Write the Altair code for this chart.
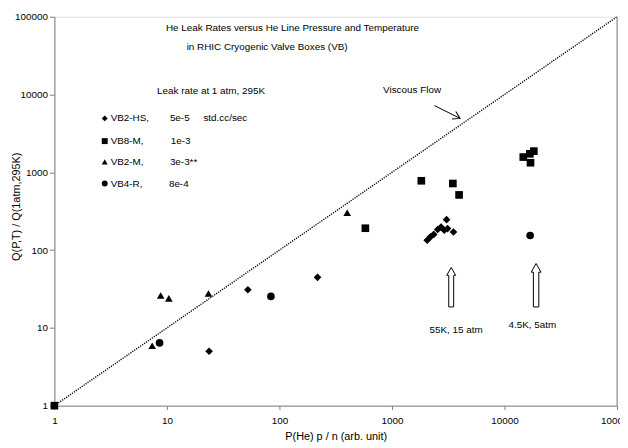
import altair as alt
import pandas as pd

# ---- data ----
diamond_x = [52.4, 218, 23.7, 2056, 2198, 2350, 2547, 2729, 3056, 2917, 3118, 3518]
diamond_y = [30.9, 44.6, 5.0, 134, 148, 159, 184, 198, 246, 180, 189, 171]

square_x = [1, 580, 1823, 3475, 3948, 14680, 16800, 18220, 17020]
square_y = [1, 191, 778, 718, 512, 1570, 1729, 1871, 1328]

triangle_x = [8.8, 10.4, 23.4, 7.4, 400]
triangle_y = [26.1, 23.9, 27.7, 5.9, 302]

circle_x = [8.6, 84, 16900]
circle_y = [6.4, 25.4, 154]

series_names = ["VB2-HS", "VB8-M", "VB2-M", "VB4-R"]
series_shapes = ["diamond", "square", "triangle-up", "circle"]
leak_rates = ["5e-5", "1e-3", "3e-3**", "8e-4"]

x_ticks = [1, 10, 100, 1000, 10000, 100000]
y_ticks = [1, 10, 100, 1000, 10000, 100000]
flow_line = [1, 100000]

FONT = "Liberation Sans"
AX = "#808080"
OX, OY = 55, 14  # plot origin on the page

rows = []
for name, xs, ys in zip(series_names,
                        [diamond_x, square_x, triangle_x, circle_x],
                        [diamond_y, square_y, triangle_y, circle_y]):
    for a, b in zip(xs, ys):
        rows.append({"x": a, "y": b, "series": name})
df = pd.DataFrame(rows)

xscale = alt.Scale(type="log", domain=[1, 100000], nice=False)
yscale = alt.Scale(type="log", domain=[1, 100000], nice=False)

xaxis = alt.Axis(values=x_ticks, format="d", title="P(He) p / n (arb. unit)",
                 grid=False, domainColor=AX, tickColor=AX, tickSize=4,
                 labelFont=FONT, labelFontSize=10, labelColor="black",
                 titleFont=FONT, titleFontSize=11, titleFontWeight="normal",
                 titleColor="black", labelPadding=6, titlePadding=5,
                 labelFlush=False, labelOverlap=False)
yaxis = alt.Axis(values=y_ticks, format="d", title="Q(P,T) / Q(1atm,295K)",
                 grid=False, domainColor=AX, tickColor=AX, tickSize=5,
                 labelFont=FONT, labelFontSize=10, labelColor="black",
                 titleFont=FONT, titleFontSize=11, titleFontWeight="normal",
                 titleColor="black", labelPadding=2, titleX=-38, titleY=192,
                 titleAngle=-90, titleAlign="center", titleBaseline="middle",
                 labelFlush=False, labelOverlap=False)

points = alt.Chart(df).mark_point(filled=True, opacity=1, color="black", size=60).encode(
    x=alt.X("x:Q", scale=xscale, axis=xaxis),
    y=alt.Y("y:Q", scale=yscale, axis=yaxis),
    shape=alt.Shape("series:N", scale=alt.Scale(domain=series_names, range=series_shapes), legend=None),
)

line_df = pd.DataFrame({"x": flow_line, "y": flow_line})
diag = alt.Chart(line_df).mark_line(color="black", strokeWidth=1.4, strokeDash=[1.2, 1.2]).encode(
    x=alt.X("x:Q", scale=xscale), y=alt.Y("y:Q", scale=yscale))

border = alt.Chart(pd.DataFrame({"x": [100000]})).mark_rule(color=AX).encode(
    x=alt.X("x:Q", scale=xscale))

one = pd.DataFrame({"a": [0]})


def label(text, px, py, align="left", size=10):
    return alt.Chart(one).mark_text(text=text, font=FONT, fontSize=size, color="black",
                                    align=align, baseline="middle").encode(
        x=alt.value(px - OX), y=alt.value(py - OY))


def sym(shape, px, py, size=30):
    return alt.Chart(one).mark_point(shape=shape, filled=True, opacity=1, color="black",
                                     size=size).encode(
        x=alt.value(px - OX), y=alt.value(py - OY))


ARROW = "M0,-1 L0.225,-0.6 L0.125,-0.6 L0.125,1 L-0.125,1 L-0.125,-0.6 L-0.225,-0.6 Z"


def up_arrow(px, py, h):
    return alt.Chart(one).mark_point(shape=ARROW, filled=True, fill="white", stroke="black",
                                     strokeWidth=1, opacity=1, size=h * h).encode(
        x=alt.value(px - OX), y=alt.value(py - OY))


layers = [diag, border, points]
layers += [label("He Leak Rates versus He Line Pressure and Temperature", 168, 25),
           label("in RHIC Cryogenic Valve Boxes (VB)", 189, 45),
           label("Leak rate at 1 atm, 295K", 159, 89),
           label("std.cc/sec", 206, 117),
           label("Viscous Flow", 388, 88),
           label("55K, 15 atm", 435, 331),
           label("4.5K, 5atm", 515, 326)]
legend_ys = [117, 140, 161, 183]
legend_vx = [172, 173, 172, 171]
for name, shp, rate, ly, vx in zip(series_names, series_shapes, leak_rates, legend_ys, legend_vx):
    layers.append(sym(shp, 106, ly, 36))
    layers.append(label(name + ",", 112, ly))
    layers.append(label(rate, vx, ly))

# pointer arrow to viscous flow line
layers.append(alt.Chart(one).mark_rule(color="black", strokeWidth=1).encode(
    x=alt.value(440 - OX), y=alt.value(104 - OY), x2=alt.value(466 - OX), y2=alt.value(117 - OY)))
layers.append(alt.Chart(one).mark_point(shape="M-1,-0.6 L0,0 L-1,0.6", filled=False, color="black",
                                        strokeWidth=1, opacity=1, size=196, angle=26.6).encode(
    x=alt.value(466 - OX), y=alt.value(117 - OY)))
layers.append(up_arrow(457, 288, 40))
layers.append(up_arrow(543, 286, 44))

chart = alt.layer(*layers).properties(
    width=570, height=394,
    autosize=alt.AutoSizeParams(type="none"),
    padding={"left": 47, "top": 6, "right": 3, "bottom": 36},
).configure_view(stroke=None).configure(background="white")

chart.save("out.html", embed_options={"renderer": "svg", "actions": False})
